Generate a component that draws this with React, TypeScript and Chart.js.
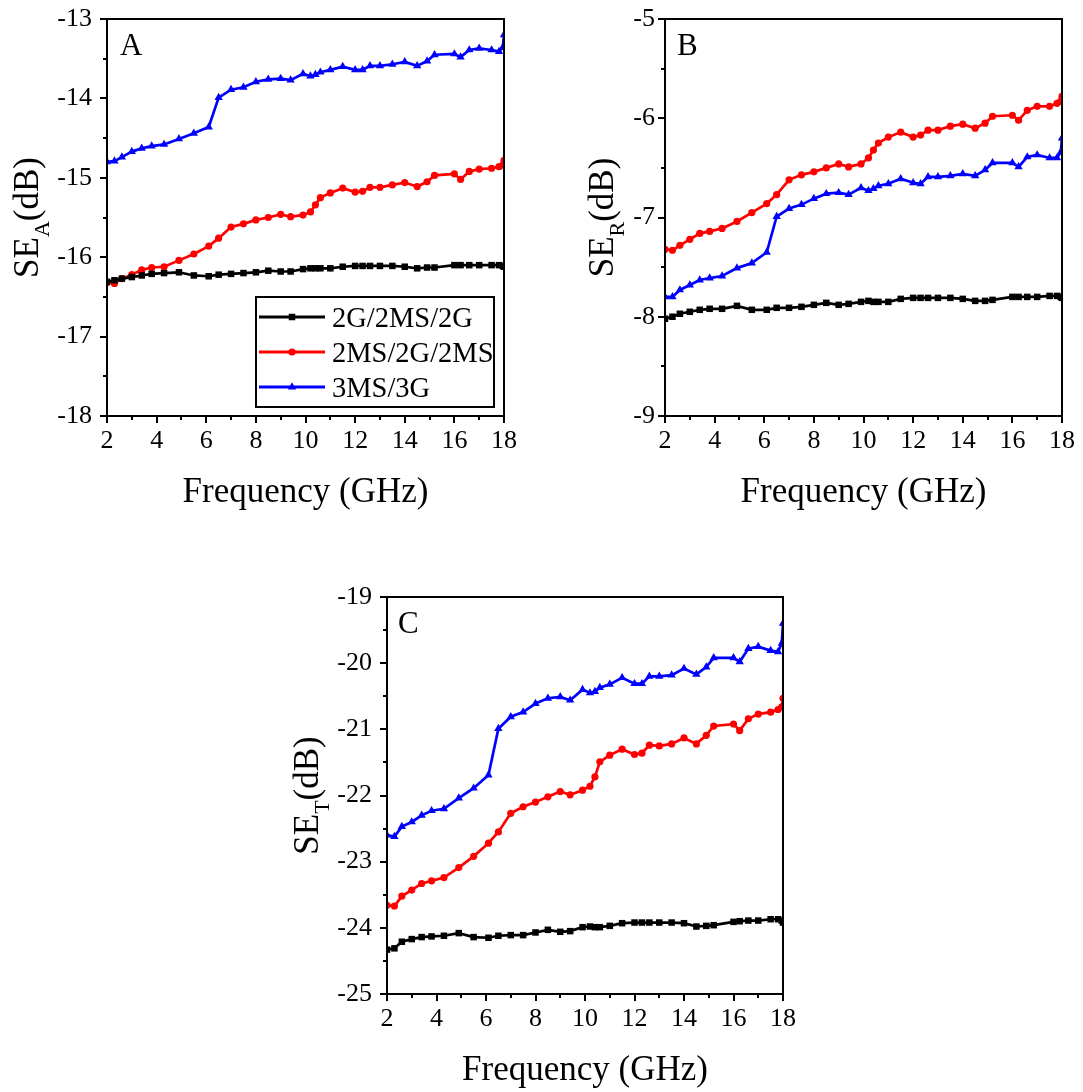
import React, { useEffect, useRef } from "react";
import { Chart, registerables } from "chart.js";

Chart.register(...registerables);

// ---------------- data ----------------
const FREQ = [
  2, 2.3, 2.6, 3, 3.4, 3.8, 4.3, 4.9, 5.5, 6.1, 6.5, 7, 7.5, 8, 8.5, 9, 9.4, 9.9, 10.2, 10.4,
  10.6, 11, 11.5, 12, 12.3, 12.6, 13, 13.5, 14, 14.5, 14.9, 15.2, 16, 16.25, 16.6, 17, 17.5, 17.8, 17.95, 18,
];

const SERIES_NAMES = ["2G/2MS/2G", "2MS/2G/2MS", "3MS/3G"];

// Panel A: SE_A
const A_BLACK = [
  -16.31, -16.29, -16.27, -16.25, -16.23, -16.21, -16.2, -16.19, -16.23, -16.24, -16.22, -16.21, -16.2, -16.19,
  -16.17, -16.18, -16.18, -16.15, -16.14, -16.14, -16.14, -16.14, -16.12, -16.11, -16.11, -16.11, -16.11, -16.11,
  -16.12, -16.14, -16.13, -16.13, -16.1, -16.1, -16.1, -16.1, -16.1, -16.1, -16.11, -16.12,
];
const A_RED = [
  -16.32, -16.33, -16.27, -16.22, -16.16, -16.13, -16.12, -16.04, -15.96, -15.86, -15.76, -15.62, -15.58, -15.53,
  -15.5, -15.46, -15.49, -15.47, -15.43, -15.34, -15.25, -15.19, -15.13, -15.18, -15.17, -15.12, -15.12, -15.09,
  -15.06, -15.11, -15.05, -14.97, -14.95, -15.02, -14.92, -14.89, -14.88, -14.86, -14.84, -14.78,
];
const A_BLUE = [
  -14.8, -14.79, -14.74, -14.67, -14.63, -14.6, -14.58, -14.51, -14.44, -14.36, -13.99, -13.89, -13.86, -13.79,
  -13.76, -13.75, -13.77, -13.69, -13.72, -13.7, -13.67, -13.64, -13.6, -13.64, -13.64, -13.59, -13.59, -13.57,
  -13.54, -13.59, -13.53, -13.45, -13.44, -13.48, -13.39, -13.37, -13.39, -13.41, -13.36, -13.2,
];

// Panel B: SE_R
const B_BLACK = [
  -8.02, -8.0, -7.97, -7.95, -7.93, -7.92, -7.92, -7.89, -7.93, -7.93, -7.91, -7.91, -7.9, -7.88, -7.86, -7.88,
  -7.87, -7.85, -7.84, -7.85, -7.85, -7.85, -7.82, -7.81, -7.81, -7.81, -7.81, -7.81, -7.82, -7.84, -7.84, -7.83,
  -7.8, -7.8, -7.8, -7.8, -7.79, -7.79, -7.8, -7.81,
];
const B_RED = [
  -7.32, -7.33, -7.28, -7.22, -7.16, -7.14, -7.11, -7.04, -6.95, -6.86, -6.77, -6.62, -6.57, -6.54, -6.5, -6.46,
  -6.49, -6.46, -6.4, -6.32, -6.25, -6.19, -6.14, -6.19, -6.17, -6.12, -6.12, -6.08, -6.06, -6.1, -6.05, -5.98,
  -5.97, -6.02, -5.92, -5.88, -5.88, -5.85, -5.83, -5.78,
];
const B_BLUE = [
  -7.8, -7.8, -7.73, -7.68, -7.63, -7.61, -7.59, -7.51, -7.46, -7.35, -6.99, -6.91, -6.87, -6.81, -6.76, -6.75,
  -6.77, -6.7, -6.73, -6.71, -6.68, -6.66, -6.61, -6.65, -6.66, -6.59, -6.59, -6.58, -6.56, -6.58, -6.52, -6.45,
  -6.45, -6.49, -6.39, -6.37, -6.4, -6.4, -6.34, -6.2,
];

// Panel C: SE_T
const C_BLACK = [
  -24.33, -24.31, -24.21, -24.17, -24.14, -24.13, -24.12, -24.08, -24.14, -24.15, -24.12, -24.11, -24.11, -24.07,
  -24.03, -24.06, -24.05, -23.99, -23.98, -23.99, -23.99, -23.97, -23.93, -23.92, -23.92, -23.92, -23.92, -23.92,
  -23.93, -23.98, -23.97, -23.96, -23.91, -23.9, -23.89, -23.89, -23.87, -23.87, -23.89, -23.92,
];
const C_RED = [
  -23.66, -23.67, -23.52, -23.43, -23.33, -23.29, -23.24, -23.09, -22.92, -22.72, -22.55, -22.27, -22.17, -22.1,
  -22.02, -21.94, -21.99, -21.92, -21.86, -21.72, -21.49, -21.39, -21.3, -21.38, -21.36, -21.24, -21.25, -21.22,
  -21.13, -21.22, -21.09, -20.95, -20.92, -21.02, -20.84, -20.77, -20.74, -20.7, -20.66, -20.53,
];
const C_BLUE = [
  -22.6, -22.62, -22.47, -22.4, -22.3, -22.23, -22.2, -22.04, -21.89, -21.69, -20.99, -20.81, -20.74, -20.61,
  -20.53, -20.51, -20.56, -20.4, -20.45, -20.43, -20.37, -20.32, -20.22, -20.31, -20.31, -20.2, -20.2, -20.18,
  -20.08, -20.17, -20.06, -19.92, -19.92, -19.98, -19.78, -19.75, -19.81, -19.83, -19.7, -19.4,
];

const X_TICKS = [2, 4, 6, 8, 10, 12, 14, 16, 18];
const A_Y_TICKS = [-18, -17, -16, -15, -14, -13];
const B_Y_TICKS = [-9, -8, -7, -6, -5];
const C_Y_TICKS = [-25, -24, -23, -22, -21, -20, -19];

// ---------------- styles ----------------
const FONT = "'Liberation Serif', 'Times New Roman', serif";
const COLORS = ["#000000", "#ff0000", "#0000ff"];
const POINT_STYLES = ["rect", "circle", "triangle"];
const POINT_RADII = [4.6, 3.6, 4.8];

function drawMarker(ctx: CanvasRenderingContext2D, style: string, x: number, y: number, r: number, color: string) {
  ctx.save();
  ctx.fillStyle = color;
  ctx.beginPath();
  if (style === "rect") {
    const s = r * Math.SQRT2;
    ctx.rect(x - s / 2, y - s / 2, s, s);
  } else if (style === "circle") {
    ctx.arc(x, y, r, 0, Math.PI * 2);
  } else {
    const h = r * 1.5;
    ctx.moveTo(x, y - r);
    ctx.lineTo(x + r * 0.87, y + h - r);
    ctx.lineTo(x - r * 0.87, y + h - r);
    ctx.closePath();
  }
  ctx.fill();
  ctx.restore();
}

const decorPlugin = {
  id: "decor",
  afterDraw(chart: any) {
    const o = chart.options.plugins.decor;
    const { ctx, chartArea: ca } = chart;
    const xs = chart.scales.x;
    const ys = chart.scales.y;
    ctx.save();
    // frame
    ctx.strokeStyle = "#000";
    ctx.lineWidth = 2;
    ctx.strokeRect(ca.left, ca.top, ca.right - ca.left, ca.bottom - ca.top);
    // x ticks (major even, minor odd) outward
    for (let v = xs.min; v <= xs.max + 1e-9; v += 1) {
      const major = Math.round(v - xs.min) % 2 === 0;
      const px = Math.round(xs.getPixelForValue(v));
      ctx.beginPath();
      ctx.moveTo(px, ca.bottom);
      ctx.lineTo(px, ca.bottom + (major ? 7 : 4));
      ctx.stroke();
    }
    for (let v = ys.min; v <= ys.max + 1e-9; v += 0.5) {
      const major = Math.abs(v - Math.round(v)) < 1e-6;
      const py = Math.round(ys.getPixelForValue(v));
      ctx.beginPath();
      ctx.moveTo(ca.left, py);
      ctx.lineTo(ca.left - (major ? 7 : 4), py);
      ctx.stroke();
    }
    ctx.fillStyle = "#000";
    // panel letter
    ctx.font = `31px ${FONT}`;
    ctx.textAlign = "left";
    ctx.textBaseline = "alphabetic";
    ctx.fillText(o.letter, ca.left + o.letterDx, ca.top + 36);
    // x title
    ctx.font = `35px ${FONT}`;
    ctx.textAlign = "center";
    ctx.fillText("Frequency (GHz)", (ca.left + ca.right) / 2, ca.bottom + 86);
    // y title with subscript
    ctx.save();
    ctx.translate(ca.left - o.yTitleOffset, (ca.top + ca.bottom) / 2);
    ctx.rotate(-Math.PI / 2);
    ctx.textAlign = "left";
    ctx.font = `35px ${FONT}`;
    const w1 = ctx.measureText("SE").width;
    const w3 = ctx.measureText("(dB)").width;
    ctx.font = `22px ${FONT}`;
    const w2 = ctx.measureText(o.sub).width;
    let sx = -(w1 + w2 + w3) / 2;
    ctx.font = `35px ${FONT}`;
    ctx.fillText("SE", sx, 0);
    sx += w1;
    ctx.font = `22px ${FONT}`;
    ctx.fillText(o.sub, sx, 11);
    sx += w2;
    ctx.font = `35px ${FONT}`;
    ctx.fillText("(dB)", sx, 0);
    ctx.restore();
    // legend
    if (o.legend) {
      const lx = ca.left + 149;
      const ly = ca.top + 278;
      const lw = ca.right - 10 - lx;
      const lh = ca.bottom - 9 - ly;
      ctx.fillStyle = "#fff";
      ctx.fillRect(lx, ly, lw, lh);
      ctx.strokeStyle = "#000";
      ctx.lineWidth = 2;
      ctx.strokeRect(lx, ly, lw, lh);
      chart.data.datasets.forEach((ds: any, i: number) => {
        const cy = ly + 20 + i * 35;
        ctx.strokeStyle = ds.borderColor;
        ctx.lineWidth = 3;
        ctx.beginPath();
        ctx.moveTo(lx + 3, cy);
        ctx.lineTo(lx + 69, cy);
        ctx.stroke();
        drawMarker(ctx, ds.pointStyle, lx + 36, cy, ds.pointRadius, ds.borderColor);
        ctx.fillStyle = "#000";
        ctx.font = `28.5px ${FONT}`;
        ctx.textAlign = "left";
        ctx.fillText(ds.label, lx + 76, cy + 9.5);
      });
    }
    ctx.restore();
  },
};

type PanelProps = {
  left: number;
  top: number;
  width: number;
  height: number;
  area: { left: number; top: number; right: number; bottom: number };
  yTicks: number[];
  series: number[][];
  letter: string;
  sub: string;
  legend: boolean;
  yTitleOffset: number;
  yTickPad: number;
  letterDx: number;
};

function Panel(p: PanelProps) {
  const ref = useRef<HTMLCanvasElement | null>(null);
  useEffect(() => {
    if (!ref.current) return;
    const yMin = p.yTicks[0];
    const yMax = p.yTicks[p.yTicks.length - 1];
    const chart = new Chart(ref.current, {
      type: "line",
      data: {
        datasets: p.series.map((vals, i) => ({
          label: SERIES_NAMES[i],
          data: FREQ.map((f, j) => ({ x: f, y: vals[j] })),
          borderColor: COLORS[i],
          backgroundColor: COLORS[i],
          borderWidth: 2.7,
          pointStyle: POINT_STYLES[i] as any,
          pointRadius: POINT_RADII[i],
          pointBorderWidth: 0,
          pointHoverRadius: POINT_RADII[i],
          tension: 0,
        })),
      },
      options: {
        animation: false,
        responsive: false,
        devicePixelRatio: 1,
        events: [],
        layout: { padding: { left: 0, top: p.area.top, right: p.width - p.area.right, bottom: 0 } },
        scales: {
          x: {
            type: "linear",
            min: 2,
            max: 18,
            afterBuildTicks: (s: any) => {
              s.ticks = X_TICKS.map((v) => ({ value: v }));
            },
            afterFit: (s: any) => {
              s.height = p.height - p.area.bottom;
              s.paddingLeft = 0;
              s.paddingRight = 0;
            },
            ticks: { color: "#000", font: { family: FONT, size: 26 }, padding: 10, maxRotation: 0, autoSkip: false },
            grid: { display: false, drawTicks: false },
            border: { display: false },
          },
          y: {
            type: "linear",
            min: yMin,
            max: yMax,
            afterBuildTicks: (s: any) => {
              s.ticks = p.yTicks.map((v) => ({ value: v }));
            },
            afterFit: (s: any) => {
              s.width = p.area.left;
              s.paddingTop = 0;
              s.paddingBottom = 0;
            },
            ticks: { color: "#000", font: { family: FONT, size: 26 }, padding: p.yTickPad, autoSkip: false },
            grid: { display: false, drawTicks: false },
            border: { display: false },
          },
        },
        plugins: {
          legend: { display: false },
          tooltip: { enabled: false },
          // @ts-ignore
          decor: {
            letter: p.letter,
            sub: p.sub,
            legend: p.legend,
            yTitleOffset: p.yTitleOffset,
            letterDx: p.letterDx,
          },
        },
      },
      plugins: [decorPlugin as any],
    });
    return () => chart.destroy();
  }, []);
  return (
    <div style={{ position: "absolute", left: p.left, top: p.top, width: p.width, height: p.height }}>
      <canvas ref={ref} width={p.width} height={p.height} style={{ width: p.width, height: p.height, display: "block" }} />
    </div>
  );
}

export default function App() {
  return (
    <div style={{ position: "absolute", left: 0, top: 0, width: 1083, height: 1092, background: "#fff", overflow: "hidden" }}>
      <Panel
        left={0}
        top={0}
        width={540}
        height={520}
        area={{ left: 107, top: 19, right: 504, bottom: 416 }}
        yTicks={A_Y_TICKS}
        series={[A_BLACK, A_RED, A_BLUE]}
        letter="A"
        sub="A"
        legend={true}
        yTitleOffset={69}
        yTickPad={15}
        letterDx={13}
      />
      <Panel
        left={560}
        top={0}
        width={523}
        height={520}
        area={{ left: 105, top: 19, right: 502, bottom: 416 }}
        yTicks={B_Y_TICKS}
        series={[B_BLACK, B_RED, B_BLUE]}
        letter="B"
        sub="R"
        legend={false}
        yTitleOffset={52}
        yTickPad={10}
        letterDx={12}
      />
      <Panel
        left={280}
        top={578}
        width={540}
        height={514}
        area={{ left: 107, top: 19, right: 503, bottom: 416 }}
        yTicks={C_Y_TICKS}
        series={[C_BLACK, C_RED, C_BLUE]}
        letter="C"
        sub="T"
        legend={false}
        yTitleOffset={69}
        yTickPad={15}
        letterDx={11}
      />
    </div>
  );
}
